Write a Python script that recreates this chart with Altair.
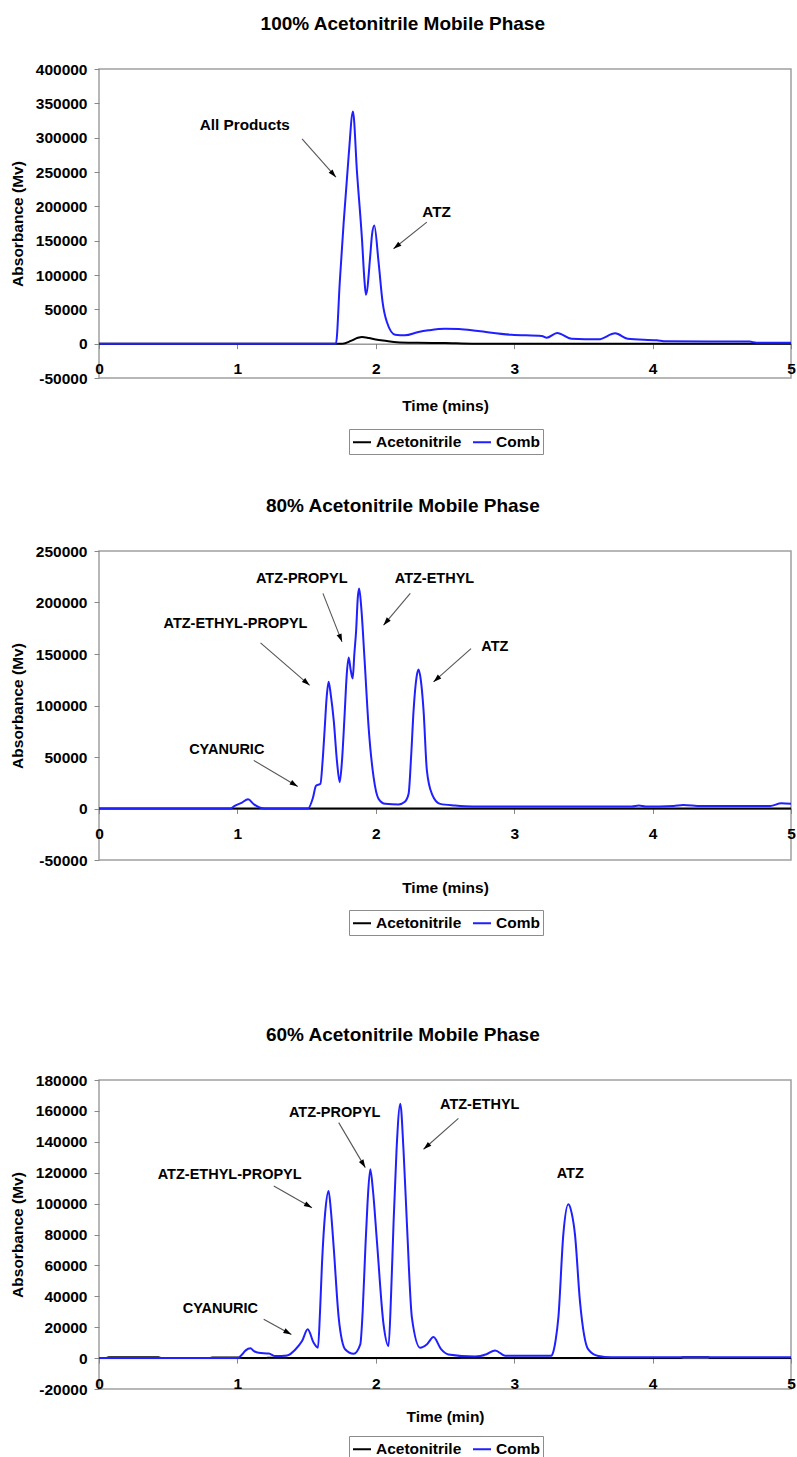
import math

import altair as alt
import pandas as pd

FONT = "Liberation Sans, Arial, sans-serif"
W, H = 692, 309
SERIES = ["Acetonitrile", "Comb"]
COLORS = ["#000000", "#1f1fff"]
X_TICKS = [0, 1, 2, 3, 4, 5]

# ---- 100% acetonitrile mobile phase ----
t100_comb = [0.0, 1.70, 1.712, 1.74, 1.768, 1.804, 1.835, 1.864, 1.900, 1.919, 1.929,
             1.960, 1.972, 1.989, 2.020, 2.049, 2.080, 2.140, 2.210, 2.309, 2.380,
             2.500, 2.600, 2.740, 2.980, 3.200, 3.235, 3.310, 3.415, 3.610, 3.730,
             3.820, 4.030, 4.100, 4.700, 4.750, 5.000]
v100_comb = [0, 0, 0, 90600, 177000, 274000, 338000, 250000, 152700, 89700, 71300,
             128400, 157500, 172000, 118800, 60600, 31500, 13000, 12100, 17000, 19400,
             21800, 21500, 18400, 13000, 11100, 8700, 15500, 7300, 6300, 15000,
             7300, 4800, 3400, 3000, 1500, 1500]
t100_acn = [0.0, 1.76, 1.82, 1.87, 1.90, 1.95, 2.00, 2.08, 2.15, 2.30, 2.50, 2.70, 5.0]
v100_acn = [0, 0, 4000, 8500, 9700, 8200, 6000, 4000, 2200, 1300, 900, 0, 0]
notes100 = ["All Products", "ATZ"]
notes100_t = [1.053, 2.439]
notes100_v = [318500, 191500]
arrows100 = [(1.467, 298200, 1.712, 242500), (2.369, 177000, 2.128, 138200)]

# ---- 80% acetonitrile mobile phase ----
t80_comb = [0.0, 0.95, 0.98, 1.03, 1.077, 1.12, 1.16, 1.20, 1.51, 1.545, 1.568, 1.60,
            1.615, 1.63, 1.645, 1.659, 1.675, 1.696, 1.72, 1.739, 1.755, 1.775, 1.79,
            1.804, 1.818, 1.833, 1.845, 1.858, 1.870, 1.880, 1.895, 1.919, 1.948,
            1.984, 2.02, 2.069, 2.165, 2.21, 2.237, 2.255, 2.273, 2.295, 2.309,
            2.325, 2.345, 2.369, 2.405, 2.465, 2.573, 2.70, 3.85, 3.90, 3.95, 4.15,
            4.22, 4.35, 4.85, 4.93, 5.0]
v80_comb = [0, 0, 2500, 5500, 9000, 4000, 1000, 0, 0, 10000, 22000, 24000,
            45000, 76000, 108000, 123000, 110000, 85600, 45000, 25600, 45000, 92000, 130000,
            146600, 135000, 126200, 150000, 173000, 205000, 213700, 195000, 144000, 79000,
            30400, 9400, 4500, 3900, 6500, 14300, 50000, 95300, 128000, 134900,
            125000, 95300, 37000, 14300, 4500, 2900, 2000, 2000, 3000, 2000, 2500,
            3500, 2500, 2500, 5000, 4500]
t80_acn = [0.0, 1.0, 2.0, 3.0, 4.0, 5.0]
v80_acn = [0, 0, 0, 0, 0, 0]
notes80 = ["ATZ-PROPYL", "ATZ-ETHYL-PROPYL", "CYANURIC", "ATZ-ETHYL", "ATZ"]
notes80_t = [1.465, 0.986, 0.923, 2.424, 2.86]
notes80_v = [222500, 179000, 56400, 222500, 156900]
arrows80 = [(1.618, 208900, 1.756, 161800), (1.167, 160800, 1.522, 119600),
            (1.118, 46700, 1.436, 21400), (2.249, 208900, 2.056, 178000),
            (2.688, 155300, 2.417, 122900)]

# ---- 60% acetonitrile mobile phase ----
t60_comb = [0.0, 1.00, 1.03, 1.06, 1.094, 1.12, 1.154, 1.227, 1.275, 1.359, 1.419,
            1.467, 1.508, 1.551, 1.582, 1.597, 1.611, 1.635, 1.659, 1.675, 1.696,
            1.732, 1.78, 1.84, 1.888, 1.905, 1.924, 1.94, 1.96, 1.98, 2.008, 2.056,
            2.092, 2.11, 2.128, 2.15, 2.177, 2.20, 2.225, 2.261, 2.321, 2.37, 2.417,
            2.47, 2.525, 2.717, 2.80, 2.862, 2.934, 3.27, 3.276, 3.30, 3.319, 3.355,
            3.391, 3.415, 3.439, 3.475, 3.535, 3.608, 3.70, 5.0]
v60_comb = [0, 0, 2000, 5000, 6300, 4500, 3400, 3000, 1300, 1700, 5600,
            11000, 18600, 9900, 6700, 30000, 60700, 95000, 108200, 96000, 71400,
            26100, 5600, 2800, 8900, 30000, 70000, 100000, 122200, 108000, 75800, 21800,
            7800, 40000, 86600, 135000, 164700, 135000, 86600, 26100, 6700, 9000, 13600,
            6000, 2400, 1000, 2500, 5000, 1500, 1500, 2400, 12000, 26100, 80100,
            99500, 94000, 80100, 36900, 5600, 1300, 500, 500]
t60_acn = [0.0, 0.05, 0.07, 0.43, 0.45, 0.80, 0.82, 1.00, 1.05, 1.20, 1.22, 1.35, 1.37,
           2.60, 2.62, 2.78, 2.80, 4.20, 4.22, 4.40, 4.42, 5.0]
v60_acn = [0, 0, 500, 500, 0, 0, 400, 400, 0, 0, 300, 300, 0,
           0, 300, 300, 0, 0, 500, 500, 0, 0]
notes60 = ["ATZ-PROPYL", "ATZ-ETHYL-PROPYL", "CYANURIC", "ATZ-ETHYL", "ATZ"]
notes60_t = [1.703, 0.944, 0.877, 2.751, 3.405]
notes60_v = [158900, 118500, 31500, 163700, 119000]
arrows60 = [(1.732, 152400, 1.924, 123300), (1.263, 111400, 1.539, 97300),
            (1.190, 25100, 1.390, 15300), (2.597, 155200, 2.345, 135200)]

# arrowhead outline: tip at the origin, pointing up before rotation
ARROW_HEAD = "M0,0L0.55,1.7L-0.55,1.7Z"


def panel(title, x_title, tc, vc, ta, va, y_min, y_max, y_step,
          notes, notes_t, notes_v, arrows, note_size, legend_y):
    lines_df = pd.DataFrame({
        "Time": ta + tc,
        "Absorbance": va + vc,
        "Series": [SERIES[0]] * len(ta) + [SERIES[1]] * len(tc),
    })
    xs = alt.Scale(domain=[0, 5], nice=False, zero=False)
    ys = alt.Scale(domain=[y_min, y_max], nice=False, zero=False)
    # the time axis sits on the zero line; its title stays just under the frame
    zero_from_bottom = H * (0 - y_min) / (y_max - y_min)

    x_axis = alt.Axis(
        title=x_title, values=X_TICKS, offset=-zero_from_bottom, grid=False,
        domainColor="#666666", domainWidth=1, tickColor="#888888", tickSize=5,
        labelPadding=13, titlePadding=zero_from_bottom - 13.5, labelFlush=False,
        format="d",
    )
    y_axis = alt.Axis(
        title="Absorbance (Mv)", values=list(range(y_min, y_max + 1, y_step)),
        labelExpr="datum.value + ''", grid=False, domain=False,
        tickColor="#888888", tickSize=5, labelPadding=7, titlePadding=10,
    )
    legend = alt.Legend(
        orient="none", legendX=250, legendY=legend_y, direction="horizontal",
        title=None, symbolType="stroke", symbolStrokeWidth=2, symbolSize=324,
        strokeColor="#8c8c8c", fillColor="white", padding=3, columnPadding=7,
        labelOffset=4, labelFontSize=15.5, labelFontWeight="bold", labelFont=FONT,
        labelColor="black",
    )

    lines = alt.Chart(lines_df).mark_line(strokeWidth=2, interpolate="monotone").encode(
        x=alt.X("Time:Q", scale=xs, axis=x_axis),
        y=alt.Y("Absorbance:Q", scale=ys, axis=y_axis),
        color=alt.Color("Series:N", scale=alt.Scale(domain=SERIES, range=COLORS),
                        legend=legend),
    )

    px_per_t = W / 5.0
    px_per_v = H / (y_max - y_min)
    arrow_df = pd.DataFrame({
        "Time": [a[0] for a in arrows],
        "Absorbance": [a[1] for a in arrows],
        "Time2": [a[2] for a in arrows],
        "Abs2": [a[3] for a in arrows],
        "angle": [
            math.degrees(math.atan2((a[2] - a[0]) * px_per_t,
                                    (a[3] - a[1]) * px_per_v)) % 360
            for a in arrows
        ],
    })
    shafts = alt.Chart(arrow_df).mark_rule(color="#555555", strokeWidth=1.1).encode(
        x=alt.X("Time:Q", scale=xs, axis=x_axis),
        y=alt.Y("Absorbance:Q", scale=ys, axis=y_axis),
        x2="Time2:Q",
        y2="Abs2:Q",
    )
    heads = alt.Chart(arrow_df).mark_point(
        shape=ARROW_HEAD, filled=True, color="black", size=90, opacity=1, strokeWidth=0,
    ).encode(
        x=alt.X("Time2:Q", scale=xs, axis=x_axis),
        y=alt.Y("Abs2:Q", scale=ys, axis=y_axis),
        angle=alt.Angle("angle:Q", scale=None),
    )

    notes_df = pd.DataFrame({"Time": notes_t, "Absorbance": notes_v, "label": notes})
    labels = alt.Chart(notes_df).mark_text(
        font=FONT, fontWeight="bold", fontSize=note_size, color="black",
    ).encode(
        x=alt.X("Time:Q", scale=xs, axis=x_axis),
        y=alt.Y("Absorbance:Q", scale=ys, axis=y_axis),
        text="label:N",
    )

    return alt.layer(lines, shafts, heads, labels).properties(
        width=W, height=H,
        title=alt.TitleParams(title, font=FONT, fontSize=19, fontWeight="bold",
                              color="black", anchor="middle", frame="bounds", offset=28),
    )


p100 = panel("100% Acetonitrile Mobile Phase", "Time (mins)",
             t100_comb, v100_comb, t100_acn, v100_acn, -50000, 400000, 50000,
             notes100, notes100_t, notes100_v, arrows100, 15.3, 360)
p80 = panel("80% Acetonitrile Mobile Phase", "Time (mins)",
            t80_comb, v80_comb, t80_acn, v80_acn, -50000, 250000, 50000,
            notes80, notes80_t, notes80_v, arrows80, 14.5, 359)
p60 = panel("60% Acetonitrile Mobile Phase", "Time (min)",
            t60_comb, v60_comb, t60_acn, v60_acn, -20000, 180000, 20000,
            notes60, notes60_t, notes60_v, arrows60, 14.5, 356)

upper = alt.vconcat(p100, p80, spacing=40).resolve_scale(
    x="independent", y="independent", color="independent")
chart = alt.vconcat(upper, p60, spacing=88).resolve_scale(
    x="independent", y="independent", color="independent"
).properties(
    padding={"left": 9, "top": 14, "right": 0, "bottom": 0},
    background="white",
).configure_view(
    stroke="#a0a0a0", strokeWidth=1.5,
).configure_axis(
    labelFont=FONT, labelFontSize=15.5, labelFontWeight="bold", labelColor="black",
    titleFont=FONT, titleFontSize=15.5, titleFontWeight="bold", titleColor="black",
)

chart.save("out.html", embed_options={"renderer": "svg", "actions": False})
